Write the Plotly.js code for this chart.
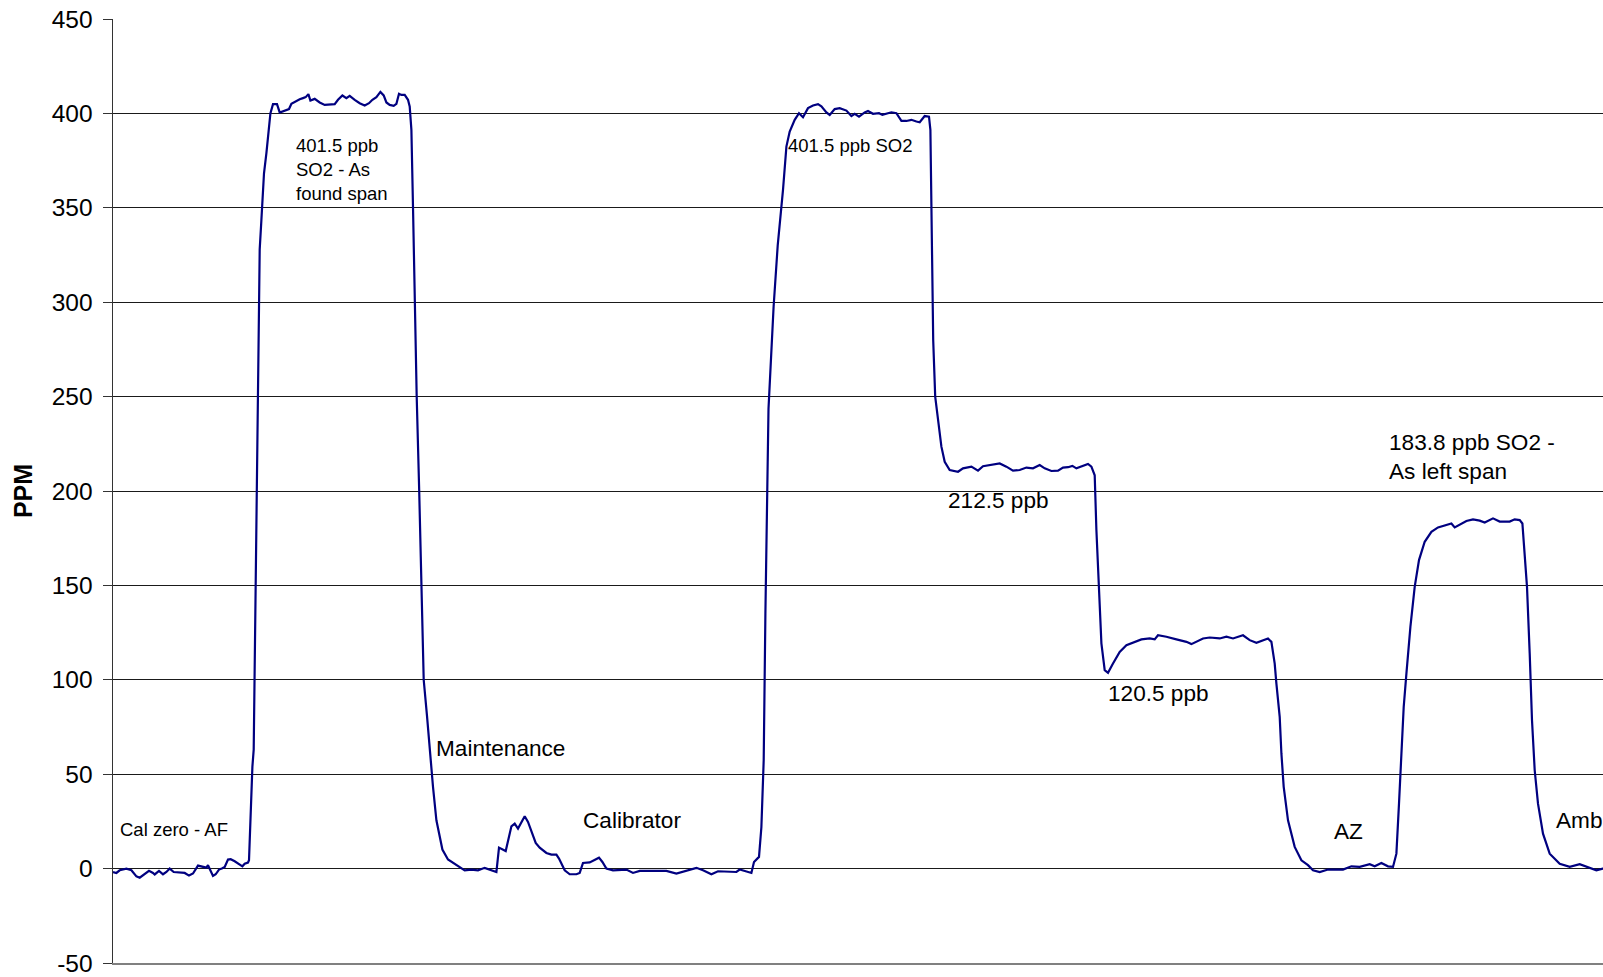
<!DOCTYPE html>
<html>
<head>
<meta charset="utf-8">
<script src="https://cdn.plot.ly/plotly-3.0.1.min.js"></script>
<style>
  html, body { margin: 0; padding: 0; background: #fff; overflow: hidden; }
  #chart { width: 1603px; height: 977px; }
</style>
</head>
<body>
<div id="chart"></div>
<script>
// Elapsed time (arbitrary sample-time units, no axis labels in source)
const timeVals = [
  0, 3.4, 6.7, 13.4, 18.4, 23.4, 26.7, 31.7, 36, 40, 41.7, 46, 50, 53.4, 56.7, 60.7, 66.7, 71.7, 76, 80,
  85, 89.4, 93.4, 95, 96.7, 100, 102.7, 106, 109.4, 111.7, 115, 117.7, 121.7, 126, 129.4, 131.7, 135, 136,
  137.4, 139.4, 140.7, 142.7, 144.7, 146.7, 148.4, 151, 153.4, 157.4,
  160, 164, 166.7, 171.7, 176, 178.4, 183.4, 186.7, 190, 192.7, 195.4, 197.4, 201.7, 206.7, 211.7, 216.7,
  221.7, 225, 229.4, 233.4, 236.7, 241.7, 246.7, 251.7, 256, 259.4, 263.4, 267.4, 270.7, 273.4, 276.7,
  280.7, 283.4, 286, 288.4, 291.7, 295, 296.7, 298.4, 300,
  301.7, 303.7, 306.2, 308.2, 310.7, 314, 317.4, 320, 323.4, 329.4, 335, 343.4, 351.7, 358.4, 365, 371.7,
  376.7, 383.4, 386, 392.7, 398.4, 401.7, 405, 411.7, 415, 422.7, 426.7, 433.4, 438.4, 443.4, 446, 451.7,
  456.7, 463.4, 466.7, 470, 476.7, 481.7, 486, 489.4, 493.4, 500, 513.4, 520, 526.7, 540, 553.4, 563.4,
  573.4, 583.4, 590, 598.4, 605, 616.7, 623.4, 626.7, 631.7, 638.4, 641, 646, 648.4, 650.7,
  652.4, 655.5, 660.6, 664.7, 670, 673.4, 676.7, 681.7, 686, 690, 695, 700, 705, 708.4, 713.4, 716.7,
  721.7, 726.7, 733.4, 738.4, 741.7, 746, 751.7, 755, 760, 766, 769.4, 773.4, 778.4, 783.4, 788.4, 793.4,
  798.4, 803.4, 806.7, 811.7, 816, 817.4, 818.4, 820.2, 822.2, 826,
  828.4, 831.7, 836.7, 845, 850, 858.4, 865, 870, 878.4, 886.7, 893.4, 900, 906.7, 913.4, 920, 926.7,
  931.7, 938.4, 945, 950, 955, 959.4, 963.4, 968.4, 975, 978.4, 981.7, 983.4, 986, 988.4,
  991.7, 995, 1000, 1006.7, 1013.4, 1021.7, 1028.4, 1036.7, 1041.7, 1045, 1053.4, 1063.4, 1073.4, 1078.4,
  1083.4, 1090, 1096.7, 1106.7, 1113.4, 1120, 1130, 1136.7, 1143.4, 1150, 1155, 1158.4, 1161.7, 1163.4,
  1165, 1166.7, 1168.4, 1170.7, 1175, 1181.7, 1188.4, 1195, 1200, 1206.7, 1215, 1230, 1238.4, 1246.7,
  1256.7, 1261.7, 1268.4, 1275, 1280, 1283.4, 1286, 1288.4, 1290.7, 1293.4, 1297.4, 1301.7, 1306,
  1311.7, 1318.4, 1325, 1333.4, 1338.4, 1341.7, 1348.4, 1353.4, 1360, 1366.7, 1371.7, 1380, 1386.7,
  1396.7, 1401.7, 1406.7, 1409.4, 1411.7, 1414, 1416.7, 1419, 1421.7, 1425, 1430, 1436.7, 1446.7,
  1456.7, 1466.7, 1475, 1483.4, 1489.7, 1496
];

// SO2 reading (PPM axis)
const ppmVals = [
  -1.8, -2.3, -0.9, 0, -0.9, -4.1, -4.8, -2.6, -1.2, -2.3, -3.1, -1.2, -3.0, -1.8, 0, -1.8, -2.1, -2.3, -3.7, -2.6,
  1.6, 0.9, 0.5, 1.8, -0.5, -3.9, -3.0, -0.5, 0.2, 0.9, 4.8, 5.0, 3.9, 2.6, 1.2, 2.6, 3.2, 4.4,
  27, 54, 63, 150, 245, 328, 343.6, 368.3, 379, 400,
  404.9, 404.9, 400.5, 401.4, 402.3, 405.1, 406.8, 407.5, 408.1, 408.6, 410.2, 406.8, 407.7, 405.8, 404.5, 404.9,
  404.9, 407.2, 409.5, 408.1, 409.3, 407.2, 405.4, 404.2, 405.4, 407.2, 408.6, 411.4, 409.5, 405.8, 404.5,
  404, 405.1, 410.4, 409.8, 409.8, 407.2, 403.7, 391.3, 350.6,
  300, 250, 200, 150, 100, 80.9, 57.4, 43.3, 25.6, 10.1, 4.8, 1.8, -0.9, -0.5, -0.9, 0.4,
  -0.5, -1.8, 11.1, 9.3, 22.4, 23.8, 21.2, 27.7, 24.7, 13.6, 11.1, 8.3, 7.4, 7.4, 5.3, -0.9,
  -3.0, -3.0, -2.3, 3.0, 3.3, 4.8, 5.8, 3.5, 0, -0.9, -0.5, -2.3, -1.2, -1.2, -1.2, -2.6,
  -1.2, 0.4, -0.9, -3.0, -1.4, -1.8, -1.8, -0.5, -1.4, -2.3, 3.5, 6.2, 22, 57.4,
  135, 243.5, 297.6, 330, 359.5, 382.4, 390.4, 396.6, 400.1, 398, 402.8, 404.2, 404.9, 403.7, 400.5, 399.2,
  402.3, 402.8, 401.5, 398.6, 399.8, 398.3, 400.5, 401.3, 399.8, 400.1, 399.2, 399.8, 400.6, 400.1, 396, 396,
  396.6, 395.7, 395.3, 398.6, 398.3, 391.3, 359.5, 280, 250, 232.3,
  223.5, 215.5, 211.1, 210.2, 212, 212.9, 210.8, 213.1, 213.7, 214.6, 212.9, 210.8, 211.1, 212.4, 212, 213.7,
  212, 210.6, 210.8, 212.4, 212.6, 213.3, 212, 212.9, 214.3, 212.9, 208.3, 179.3, 151, 119.3,
  105.1, 103.7, 108.6, 114.8, 118.3, 120.1, 121.4, 121.9, 121.4, 123.6, 122.8, 121.4, 120.1, 118.9,
  120.1, 121.9, 122.4, 121.9, 122.8, 121.9, 123.6, 121, 119.6, 121, 121.9, 120.1, 108.6, 98,
  89.2, 80.4, 61, 43.3, 25.6, 11.5, 4.4, 1.8, -0.9, -1.8, -0.5, -0.5, 1.2, 0.9,
  2.3, 1.2, 3.0, 1.2, 0.9, 7.9, 34.4, 61, 85.6, 103.3, 128, 149.2, 163.4,
  173.1, 178.4, 180.7, 181.9, 182.8, 180.7, 182.8, 184.1, 185, 184.3, 183.3, 185.5, 183.8,
  183.8, 185, 184.6, 182.8, 167, 149.2, 114, 78.6, 52.1, 34.4, 18.5, 7.9, 2.6,
  0.9, 2.3, 0.9, -0.9, 0, -0.5
];

// Text labels placed on the trace
const labelTexts = [
  "Cal zero - AF",
  "401.5 ppb<br>SO2 - As<br>found span",
  "Maintenance",
  "Calibrator",
  "401.5 ppb SO2",
  "212.5 ppb",
  "120.5 ppb",
  "AZ",
  "183.8 ppb SO2 -<br>As left span",
  "Ambient"
];
const labelTimes = [5.0, 181.0, 320.7, 467.5, 672.5, 832.5, 993.2, 1219.2, 1274.0, 1441.0];
const labelPpm   = [20.7, 370.5, 63.6, 25.6, 382.9, 194.9, 92.6, 19.4, 217.9, 25.3];
const labelSizes = [18.5, 18.5, 22.6, 22.6, 18.5, 22.6, 22.6, 22.6, 22.6, 22.6];

const yTickVals = [-50, 0, 50, 100, 150, 200, 250, 300, 350, 400, 450];

const FONT = '"Liberation Sans", Arial, sans-serif';

const trace = {
  x: timeVals,
  y: ppmVals,
  type: 'scatter',
  mode: 'lines',
  line: { color: '#000080', width: 2.2, shape: 'linear' },
  hoverinfo: 'x+y',
  showlegend: false,
  cliponaxis: true
};

const annotations = labelTexts.map((t, i) => ({
  text: t,
  x: labelTimes[i],
  y: labelPpm[i],
  xref: 'x',
  yref: 'y',
  xanchor: 'left',
  yanchor: 'middle',
  align: 'left',
  showarrow: false,
  font: { family: FONT, size: labelSizes[i], color: '#000' }
}));

const layout = {
  width: 1603,
  height: 977,
  margin: { l: 113, r: 0, t: 19, b: 14, pad: 0 },
  paper_bgcolor: '#fff',
  plot_bgcolor: '#fff',
  font: { family: FONT, color: '#000' },
  xaxis: {
    range: [0, 1490],
    showgrid: false,
    zeroline: false,
    showticklabels: false,
    ticks: '',
    showline: true,
    linecolor: '#808080',
    linewidth: 2,
    fixedrange: true
  },
  yaxis: {
    range: [-50, 450],
    tickvals: yTickVals,
    ticktext: yTickVals.map(String),
    ticks: 'outside',
    ticklen: 9,
    tickwidth: 1,
    tickcolor: '#333',
    ticklabelstandoff: 5,
    tickfont: { family: FONT, size: 24.5, color: '#000' },
    showgrid: true,
    gridcolor: '#1a1a1a',
    gridwidth: 1,
    zeroline: false,
    showline: true,
    linecolor: '#333',
    linewidth: 1.5,
    automargin: false,
    title: { text: 'PPM', font: { family: FONT, size: 25, color: '#000', weight: 'bold' }, standoff: 12 },
    fixedrange: true
  },
  annotations: annotations,
  showlegend: false
};

Plotly.newPlot('chart', [trace], layout, { displayModeBar: false, staticPlot: true });
</script>
</body>
</html>
